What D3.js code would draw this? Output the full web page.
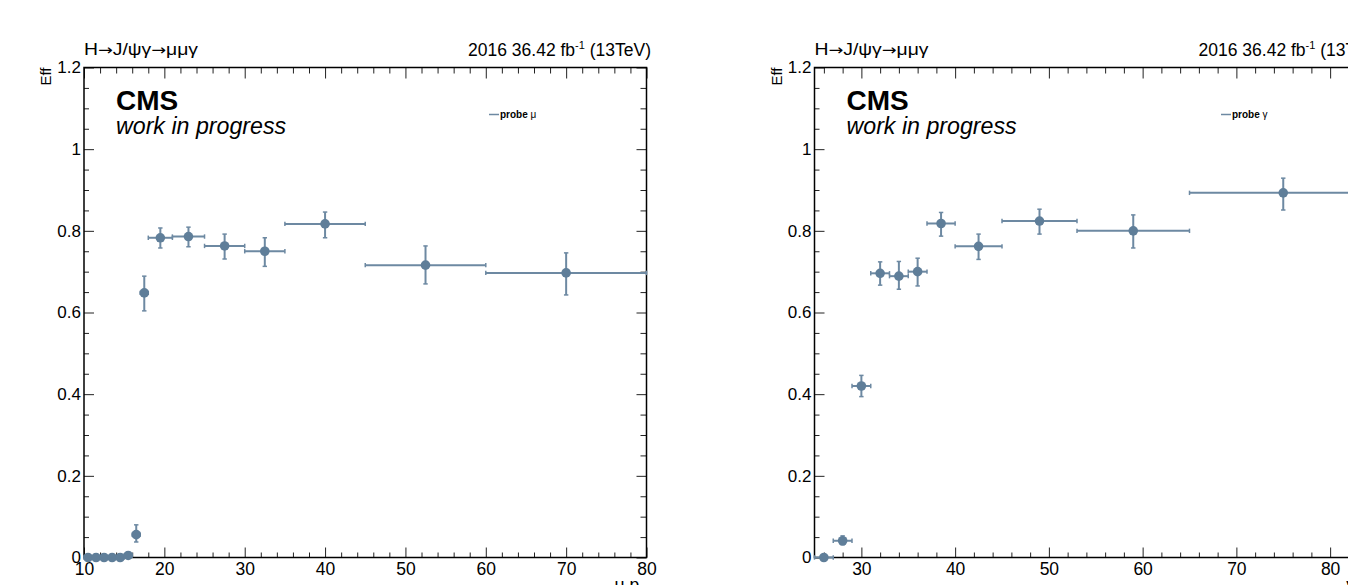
<!DOCTYPE html>
<html><head><meta charset="utf-8">
<script src="https://cdn.jsdelivr.net/npm/d3@7"></script>
<style>
body{margin:0;background:#fff}
svg{display:block;font-family:"Liberation Sans",Arial,Helvetica,sans-serif}
</style>
</head><body>
<svg id="c" width="1348" height="585"></svg>
<script>
// ---- probe muon: efficiency vs muon pT ----
const muBinLo = [10, 11, 12, 13, 14, 15, 16, 17, 18, 21, 25, 30, 35, 45, 60];
const muBinHi = [11, 12, 13, 14, 15, 16, 17, 18, 21, 25, 30, 35, 45, 60, 80];
const muX     = [10.5, 11.5, 12.5, 13.5, 14.5, 15.5, 16.5, 17.5, 19.5, 23, 27.5, 32.5, 40, 52.5, 70];
const muEff   = [0, 0, 0, 0, 0, 0.005, 0.056, 0.648, 0.783, 0.786, 0.763, 0.750, 0.817, 0.716, 0.697];
const muErrLo = [0, 0, 0, 0, 0, 0.003, 0.018, 0.044, 0.025, 0.025, 0.032, 0.037, 0.034, 0.046, 0.054];
const muErrHi = [0.003, 0.003, 0.003, 0.003, 0.003, 0.005, 0.024, 0.041, 0.024, 0.023, 0.029, 0.033, 0.029, 0.047, 0.049];

// ---- probe photon: efficiency vs photon pT ----
const gaBinLo = [25, 27, 29, 31, 33, 35, 37, 40, 45, 53, 65];
const gaBinHi = [27, 29, 31, 33, 35, 37, 40, 45, 53, 65, 85];
const gaX     = [26, 28, 30, 32, 34, 36, 38.5, 42.5, 49, 59, 75];
const gaEff   = [0, 0.041, 0.420, 0.696, 0.689, 0.700, 0.818, 0.762, 0.824, 0.800, 0.893];
const gaErrLo = [0, 0.010, 0.026, 0.029, 0.032, 0.035, 0.031, 0.032, 0.032, 0.042, 0.042];
const gaErrHi = [0.004, 0.012, 0.026, 0.028, 0.036, 0.033, 0.027, 0.030, 0.029, 0.039, 0.036];

// axis ticks
const yMajor = [0, 0.2, 0.4, 0.6, 0.8, 1, 1.2];
const muXMajor = [10, 20, 30, 40, 50, 60, 70, 80];
const gaXMajor = [30, 40, 50, 60, 70, 80];

// decay chain title, split so the arrows can use a font with a long arrow glyph
const titleParts = ["H", "\u2192", "J/\u03C8\u03B3", "\u2192", "\u03BC\u03BC\u03B3"];
const markerColor = "#5f7e99";
const barColor = "#6d89a2";

const svg = d3.select("#c");

function drawPanel(p) {
  const top = 67.5, bottom = 557.5;
  const x = d3.scaleLinear().domain(p.xDomain).range([p.left, p.right]);
  const y = d3.scaleLinear().domain([0, 1.2]).range([bottom, top]);
  const g = svg.append("g");

  const yMinor = d3.range(0, 1.2001, 0.05).map(v => +v.toFixed(2)).filter(v => !yMajor.includes(v));
  const xMinor = d3.range(p.xDomain[0], p.xDomain[1] + 0.001, 1)
    .filter(v => v % 2 === 0 && !p.xMajor.includes(v));

  const addAxis = (axis, tr) => {
    const a = g.append("g").attr("transform", tr).call(axis);
    a.select(".domain").remove();
    a.selectAll(".tick line").attr("stroke", "#222").attr("stroke-width", 1);
    return a;
  };

  // bottom axis
  const bx = addAxis(d3.axisBottom(x).tickValues(p.xMajor).tickSize(-10).tickPadding(5)
    .tickFormat(d3.format("d")), `translate(0,${bottom})`);
  bx.selectAll("text").attr("font-size", 17.5).attr("fill", "#000")
    .attr("font-family", "Liberation Sans, Arial, sans-serif");
  addAxis(d3.axisBottom(x).tickValues(xMinor).tickSize(-5).tickFormat(""), `translate(0,${bottom})`);
  // top axis
  addAxis(d3.axisTop(x).tickValues(p.xMajor).tickSize(-11).tickFormat(""), `translate(0,${top})`);
  addAxis(d3.axisTop(x).tickValues(xMinor).tickSize(-6).tickFormat(""), `translate(0,${top})`);
  // left axis
  const ly = addAxis(d3.axisLeft(y).tickValues(yMajor).tickSize(-10).tickPadding(3)
    .tickFormat(d => String(d)), `translate(${p.left},0)`);
  ly.selectAll("text").attr("font-size", 17).attr("fill", "#000")
    .attr("font-family", "Liberation Sans, Arial, sans-serif");
  addAxis(d3.axisLeft(y).tickValues(yMinor).tickSize(-5).tickFormat(""), `translate(${p.left},0)`);
  // right axis
  addAxis(d3.axisRight(y).tickValues(yMajor).tickSize(-10).tickFormat(""), `translate(${p.right},0)`);
  addAxis(d3.axisRight(y).tickValues(yMinor).tickSize(-6).tickFormat(""), `translate(${p.right},0)`);

  // frame
  g.append("rect").attr("x", p.left).attr("y", top)
    .attr("width", p.right - p.left).attr("height", bottom - top)
    .attr("fill", "none").attr("stroke", "#000").attr("stroke-width", 1.5);

  // data points with asymmetric errors and bin-width bars
  const pts = p.xc.map((xc, i) => ({
    xc, lo: p.binLo[i], hi: p.binHi[i], v: p.eff[i],
    el: p.errLo[i], eh: p.errHi[i]
  }));
  const cap = 2.2;
  const pg = g.append("g").attr("stroke", barColor).attr("stroke-width", 2).attr("fill", "none");
  pts.forEach(d => {
    const cx = x(d.xc), cy = y(d.v);
    const x0 = x(d.lo), x1 = x(d.hi);
    const y0 = y(d.v - d.el), y1 = y(d.v + d.eh);
    pg.append("line").attr("x1", x0).attr("x2", x1).attr("y1", cy).attr("y2", cy);
    pg.append("line").attr("x1", cx).attr("x2", cx).attr("y1", y0).attr("y2", y1);
    [x0, x1].forEach(xx => pg.append("line").attr("x1", xx).attr("x2", xx)
      .attr("y1", cy - cap).attr("y2", cy + cap).attr("stroke-width", 1.5));
    [y0, y1].forEach(yy => pg.append("line").attr("x1", cx - cap).attr("x2", cx + cap)
      .attr("y1", yy).attr("y2", yy).attr("stroke-width", 1.5));
  });
  g.append("g").selectAll("circle").data(pts).join("circle")
    .attr("cx", d => x(d.xc)).attr("cy", d => y(d.v)).attr("r", 4.8)
    .attr("fill", markerColor);

  // header texts
  const tt = g.append("text").attr("x", p.left).attr("y", 55).attr("font-size", 16.5)
    .attr("textLength", 114).attr("lengthAdjust", "spacingAndGlyphs");
  titleParts.forEach(s => {
    const t = tt.append("tspan").text(s);
    if (s === "\u2192") t.attr("font-family", "DejaVu Sans, sans-serif").attr("font-size", 15);
  });
  const lumi = g.append("text").attr("x", p.right + 4.5).attr("y", 55.5)
    .attr("font-size", 17.5).attr("text-anchor", "end");
  lumi.append("tspan").text("2016 36.42 fb");
  lumi.append("tspan").attr("font-size", 11).attr("dy", -6.5).text("-1");
  lumi.append("tspan").attr("dy", 6.5).text(" (13TeV)");

  // CMS label
  g.append("text").attr("x", p.left + 32).attr("y", 110).attr("font-size", 28)
    .attr("font-weight", "bold").text("CMS");
  g.append("text").attr("x", p.left + 32).attr("y", 134).attr("font-size", 23.2)
    .attr("font-style", "italic").text("work in progress");

  // y title
  g.append("text").attr("transform", `translate(${p.left - 33},${top}) rotate(-90)`)
    .attr("text-anchor", "end").attr("font-size", 15).text("Eff");

  // x title
  const xt = g.append("text").attr("x", p.right).attr("y", 591)
    .attr("font-size", 17.5).attr("text-anchor", "end");
  xt.append("tspan").text(p.xTitle + " p");
  xt.append("tspan").attr("font-size", 12).attr("dy", 4).text("T");

  // legend
  const lx = p.legendX, ly0 = 114.5;
  g.append("line").attr("x1", lx).attr("x2", lx + 10).attr("y1", ly0).attr("y2", ly0)
    .attr("stroke", barColor).attr("stroke-width", 1.5);
  const lt = g.append("text").attr("x", lx + 11).attr("y", ly0 + 3.5).attr("font-size", 10);
  lt.append("tspan").attr("font-weight", "bold").text("probe ");
  lt.append("tspan").text(p.legendSym);
}

drawPanel({
  left: 84, right: 646.5, xDomain: [10, 80], xMajor: muXMajor,
  xc: muX, binLo: muBinLo, binHi: muBinHi, eff: muEff, errLo: muErrLo, errHi: muErrHi,
  xTitle: "\u03BC", legendX: 489, legendSym: "\u03BC"
});
drawPanel({
  left: 814.5, right: 1377, xDomain: [25, 85], xMajor: gaXMajor,
  xc: gaX, binLo: gaBinLo, binHi: gaBinHi, eff: gaEff, errLo: gaErrLo, errHi: gaErrHi,
  xTitle: "\u03B3", legendX: 1221, legendSym: "\u03B3"
});
</script>
</body></html>
